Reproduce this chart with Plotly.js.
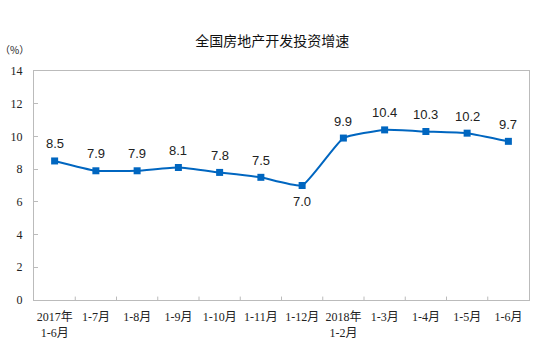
<!DOCTYPE html>
<html><head><meta charset="utf-8">
<script src="https://cdn.plot.ly/plotly-3.0.1.min.js"></script>
<style>body{margin:0;background:#fff}#c{width:550px;height:356px}</style>
</head><body><div id="c"></div>
<script>
const categories = ["2017年<br>1-6月","1-7月","1-8月","1-9月","1-10月","1-11月","1-12月","2018年<br>1-2月","1-3月","1-4月","1-5月","1-6月"];
const growth = [8.5,7.9,7.9,8.1,7.8,7.5,7.0,9.9,10.4,10.3,10.2,9.7];
const labelBelow = [false,false,false,false,false,false,true,false,false,false,false,false];
const idx = categories.map((c,i)=>i);
const trace = {
  x: idx, y: growth, type:'scatter', mode:'lines+markers',
  line:{color:'#0066C0', width:2, shape:'spline', smoothing:0.4},
  marker:{symbol:'square', size:7, color:'#0066C0'},
  cliponaxis:false, hoverinfo:'none'
};
const dataLabels = idx.map(i=>({
  x:i, y:growth[i], xref:'x', yref:'y', text:growth[i].toFixed(1), showarrow:false,
  yshift: labelBelow[i] ? -16 : 17, xanchor:'center', yanchor:'middle',
  font:{family:'Liberation Sans, Arial', size:13, color:'#222'}
}));
const layout = {
  width:550, height:356,
  margin:{l:34, r:21, t:71, b:56},
  paper_bgcolor:'#fff', plot_bgcolor:'#fff',
  showlegend:false,
  title:{text:'全国房地产开发投资增速', x:0.495, xanchor:'center', y:0.885, yanchor:'middle',
    font:{family:'Noto Sans CJK SC', size:14, color:'#111'}},
  xaxis:{range:[-0.5,11.5], tickmode:'array', tickvals:idx, ticktext:categories,
    showgrid:false, zeroline:false, showline:true, linecolor:'#bbb', linewidth:1, mirror:true,
    ticks:'', ticklabelstandoff:6,
    tickfont:{family:'Liberation Serif, Noto Sans CJK SC', size:12, color:'#222'}},
  yaxis:{range:[0,14], dtick:2, showgrid:false, zeroline:false, showline:true, linecolor:'#bbb', linewidth:1, mirror:true,
    ticks:'inside', ticklen:4, tickcolor:'#bbb', ticklabelstandoff:8,
    tickfont:{family:'Liberation Serif', size:12, color:'#222'}},
  annotations:[{text:'（%）', xref:'paper', yref:'paper', x:-0.04, y:1.095, xanchor:'center', yanchor:'middle', showarrow:false,
    font:{family:'Noto Sans CJK SC', size:10, color:'#222'}}].concat(dataLabels),
  shapes: idx.slice(1).map(i=>({type:'line', xref:'x', yref:'paper', x0:i-0.5, x1:i-0.5, y0:0, y1:0.015, line:{color:'#bbb', width:1}}))
};
Plotly.newPlot('c',[trace],layout,{staticPlot:true});
</script></body></html>
